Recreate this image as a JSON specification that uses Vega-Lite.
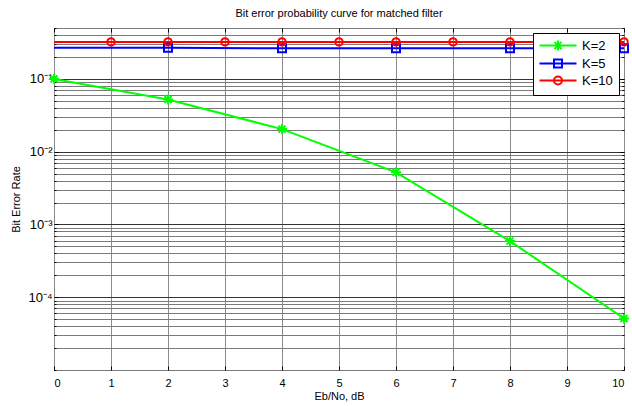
{
  "$schema": "https://vega.github.io/schema/vega-lite/v6.json",
  "width": 570,
  "height": 342,
  "autosize": "none",
  "padding": {"left": 54, "top": 28, "right": 8, "bottom": 36},
  "background": "white",
  "config": {
    "font": "Liberation Sans",
    "view": {"stroke": "black", "strokeWidth": 1},
    "axis": {"labelFont": "Liberation Sans", "titleFont": "Liberation Sans", "labelColor": "black", "titleColor": "black", "titleFontWeight": "normal", "domainColor": "black", "tickColor": "black"}
  },
  "title": {"text": "Bit error probability curve for matched filter", "fontSize": 11, "fontWeight": "normal", "color": "black", "offset": 9, "font": "Liberation Sans"},
  "data": {"values": [
    {"x": 0, "ber": 0.1, "K": "K=2"},
    {"x": 2, "ber": 0.052, "K": "K=2"},
    {"x": 4, "ber": 0.0204, "K": "K=2"},
    {"x": 6, "ber": 0.0052, "K": "K=2"},
    {"x": 8, "ber": 0.00059, "K": "K=2"},
    {"x": 10, "ber": 0.000051, "K": "K=2"},
    {"x": 0, "ber": 0.268, "K": "K=5"},
    {"x": 2, "ber": 0.268, "K": "K=5"},
    {"x": 4, "ber": 0.263, "K": "K=5"},
    {"x": 6, "ber": 0.263, "K": "K=5"},
    {"x": 8, "ber": 0.263, "K": "K=5"},
    {"x": 10, "ber": 0.263, "K": "K=5"},
    {"x": 0, "ber": 0.322, "K": "K=10"},
    {"x": 1, "ber": 0.322, "K": "K=10"},
    {"x": 2, "ber": 0.322, "K": "K=10"},
    {"x": 3, "ber": 0.322, "K": "K=10"},
    {"x": 4, "ber": 0.322, "K": "K=10"},
    {"x": 5, "ber": 0.322, "K": "K=10"},
    {"x": 6, "ber": 0.322, "K": "K=10"},
    {"x": 7, "ber": 0.322, "K": "K=10"},
    {"x": 8, "ber": 0.322, "K": "K=10"},
    {"x": 9, "ber": 0.322, "K": "K=10"},
    {"x": 10, "ber": 0.322, "K": "K=10"}
  ]},
  "resolve": {"axis": {"x": "independent", "y": "independent"}},
  "layer": [
    {
      "layer": [
        {
          "mark": {"type": "line", "strokeWidth": 2, "clip": true},
          "encoding": {
            "x": {"field": "x", "type": "quantitative", "scale": {"domain": [0, 10], "nice": false},
              "axis": {"orient": "bottom", "values": [0,1,2,3,4,5,6,7,8,9,10], "format": "d", "title": "Eb/No, dB", "titleFontSize": 11, "titlePadding": 2, "labelFontSize": 11, "tickSize": -4, "labelPadding": 11, "grid": true, "gridColor": "#8a8a8a", "gridWidth": 1, "domain": false}},
            "y": {"field": "ber", "type": "quantitative", "scale": {"type": "log", "domain": [0.00001, 0.5], "nice": false},
              "axis": {"orient": "left", "title": "Bit Error Rate", "titleFontSize": 11, "titlePadding": 6, "labelFontSize": 13, "labelPadding": 6, "domain": false,
                "values": [0.00001,0.00002,0.00003,0.00004,0.00005,0.00006,0.00007,0.00008,0.00009,0.0001,0.0002,0.0003,0.0004,0.0005,0.0006,0.0007,0.0008,0.0009,0.001,0.002,0.003,0.004,0.005,0.006,0.007,0.008,0.009,0.01,0.02,0.03,0.04,0.05,0.06,0.07,0.08,0.09,0.1,0.2,0.3,0.4,0.5],
                "labelExpr": "datum.value == 0.1 ? '10⁻¹' : datum.value == 0.01 ? '10⁻²' : datum.value == 0.001 ? '10⁻³' : datum.value == 0.0001 ? '10⁻⁴' : ''",
                "tickSize": {"condition": {"test": "datum.value == 0.1 || datum.value == 0.01 || datum.value == 0.001 || datum.value == 0.0001", "value": -4}, "value": -2},
                "grid": true,
                "gridColor": {"condition": {"test": "datum.value == 0.1 || datum.value == 0.01 || datum.value == 0.001 || datum.value == 0.0001", "value": "#333333"}, "value": "#7a7a7a"},
                "gridWidth": 1}},
            "color": {"field": "K", "type": "nominal",
              "scale": {"domain": ["K=2", "K=5", "K=10"], "range": ["#00ff00", "#0000ff", "#ff0000"]},
              "legend": {"title": null, "orient": "top-right", "offset": 5, "padding": 6, "strokeColor": "black", "fillColor": "white", "labelFontSize": 13, "labelColor": "black", "labelFont": "Liberation Sans", "symbolSize": 64, "symbolStrokeWidth": 2, "labelOffset": 30, "rowPadding": 0,
                "encode": {"symbols": {"update": {
                  "shape": {"signal": "datum.value === 'K=2' ? 'M-1.5,0H7.75M2,0H4.25M3.125,-1.25V1.25M2.25,-0.9L4,0.9M2.25,0.9L4,-0.9' : datum.value === 'K=5' ? 'M-1.5,0H7.75M2.125,-1H4.125V1H2.125Z' : 'M-1.5,0H7.75M2.125,0A1,1 0 1,0 4.125,0A1,1 0 1,0 2.125,0Z'"},
                  "fill": {"value": "transparent"},
                  "strokeWidth": {"value": 2}
                }}}}}
          }
        },
        {
          "transform": [{"filter": "datum.K == 'K=2'"}],
          "mark": {"type": "point", "filled": false, "strokeWidth": 2, "color": "#00ff00", "size": 100, "shape": "M-1,0H1M0,-1V1M-0.7,-0.7L0.7,0.7M-0.7,0.7L0.7,-0.7", "opacity": 1, "clip": false},
          "encoding": {
            "x": {"field": "x", "type": "quantitative"},
            "y": {"field": "ber", "type": "quantitative"}
          }
        },
        {
          "transform": [{"filter": "datum.K == 'K=5' && datum.x > 0"}],
          "mark": {"type": "point", "filled": false, "strokeWidth": 2, "color": "#0000ff", "size": 64, "shape": "square", "opacity": 1, "clip": false},
          "encoding": {
            "x": {"field": "x", "type": "quantitative"},
            "y": {"field": "ber", "type": "quantitative"}
          }
        },
        {
          "transform": [{"filter": "datum.K == 'K=10' && datum.x > 0"}],
          "mark": {"type": "point", "filled": false, "strokeWidth": 2, "color": "#ff0000", "size": 55, "shape": "circle", "opacity": 1, "clip": false},
          "encoding": {
            "x": {"field": "x", "type": "quantitative"},
            "y": {"field": "ber", "type": "quantitative"}
          }
        }
      ]
    },
    {
      "mark": {"type": "point", "opacity": 0},
      "encoding": {
        "x": {"field": "x", "type": "quantitative", "axis": {"orient": "top", "values": [0,1,2,3,4,5,6,7,8,9,10], "labels": false, "title": null, "tickSize": -4, "grid": false, "domain": false}},
        "y": {"field": "ber", "type": "quantitative", "scale": {"type": "log"},
          "axis": {"orient": "right", "labels": false, "title": null, "grid": false, "domain": false,
            "values": [0.00001,0.00002,0.00003,0.00004,0.00005,0.00006,0.00007,0.00008,0.00009,0.0001,0.0002,0.0003,0.0004,0.0005,0.0006,0.0007,0.0008,0.0009,0.001,0.002,0.003,0.004,0.005,0.006,0.007,0.008,0.009,0.01,0.02,0.03,0.04,0.05,0.06,0.07,0.08,0.09,0.1,0.2,0.3,0.4,0.5],
            "tickSize": {"condition": {"test": "datum.value == 0.1 || datum.value == 0.01 || datum.value == 0.001 || datum.value == 0.0001", "value": -4}, "value": -2}}}
      }
    }
  ]
}
